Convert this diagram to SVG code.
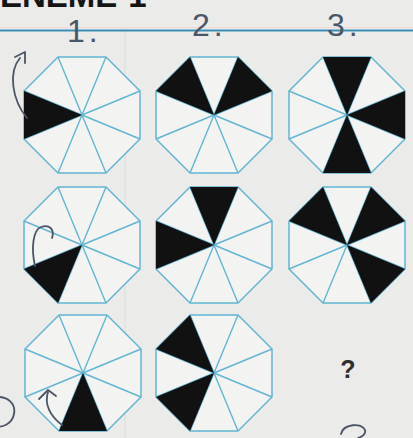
<svg xmlns="http://www.w3.org/2000/svg" xmlns:xlink="http://www.w3.org/1999/xlink" width="413" height="438" viewBox="0 0 413 438">
<style>
.oct{fill:#f3f3f2;stroke:#62b6d4;stroke-width:1.5;stroke-linejoin:round}
.spoke{stroke:#62b6d4;stroke-width:1.4}
.blk{fill:#111}
.hand{fill:none;stroke:#4a5466;stroke-width:1.8;stroke-linecap:round;stroke-linejoin:round}
.num{font-family:"Liberation Sans",Arial,sans-serif;font-size:32px;fill:#4a5668;letter-spacing:4px}
</style>
<defs>
<g id="octbase">
<polygon class="oct" points="-24,-58 24,-58 58,-24 58,24 24,58 -24,58 -58,24 -58,-24"/>
<g class="spoke">
<line x1="0" y1="0" x2="-24" y2="-58"/><line x1="0" y1="0" x2="24" y2="-58"/>
<line x1="0" y1="0" x2="58" y2="-24"/><line x1="0" y1="0" x2="58" y2="24"/>
<line x1="0" y1="0" x2="24" y2="58"/><line x1="0" y1="0" x2="-24" y2="58"/>
<line x1="0" y1="0" x2="-58" y2="24"/><line x1="0" y1="0" x2="-58" y2="-24"/>
</g>
</g>
<polygon id="wT" class="blk" points="0,0 -24,-58 24,-58"/>
<polygon id="wTR" class="blk" points="0,0 24,-58 58,-24"/>
<polygon id="wR" class="blk" points="0,0 58,-24 58,24"/>
<polygon id="wBR" class="blk" points="0,0 58,24 24,58"/>
<polygon id="wB" class="blk" points="0,0 24,58 -24,58"/>
<polygon id="wBL" class="blk" points="0,0 -24,58 -58,24"/>
<polygon id="wL" class="blk" points="0,0 -58,24 -58,-24"/>
<polygon id="wTL" class="blk" points="0,0 -58,-24 -24,-58"/>
</defs>
<rect x="0" y="0" width="413" height="438" fill="#ebebea"/>
<line x1="125" y1="30" x2="125" y2="438" stroke="#dcdcdc" stroke-width="1"/>
<line x1="0" y1="27.5" x2="413" y2="27.5" stroke="#f0d6d6" stroke-width="1"/>
<line x1="0" y1="30.5" x2="413" y2="30.5" stroke="#3a8db4" stroke-width="2"/>
<text x="0" y="7" font-family="Liberation Sans,Arial,sans-serif" font-weight="bold" font-size="33" fill="#151515">ENEME-1</text>
<g id="headers">
<text class="num" x="67" y="42" font-size="28">1.</text>
<text class="num" x="192" y="36">2.</text>
<text class="num" x="327" y="36">3.</text>
</g>
<g id="n1" transform="translate(82,115)"><use xlink:href="#octbase"/><use xlink:href="#wL"/></g>
<g id="n2" transform="translate(214,115)"><use xlink:href="#octbase"/><use xlink:href="#wTL"/><use xlink:href="#wTR"/></g>
<g id="n3" transform="translate(347,115)"><use xlink:href="#octbase"/><use xlink:href="#wT"/><use xlink:href="#wR"/><use xlink:href="#wB"/></g>
<g id="n4" transform="translate(82,245)"><use xlink:href="#octbase"/><use xlink:href="#wBL"/></g>
<g id="n5" transform="translate(214,245)"><use xlink:href="#octbase"/><use xlink:href="#wT"/><use xlink:href="#wL"/></g>
<g id="n6" transform="translate(347,245)"><use xlink:href="#octbase"/><use xlink:href="#wTL"/><use xlink:href="#wTR"/><use xlink:href="#wBR"/></g>
<g id="n7" transform="translate(83,373)"><use xlink:href="#octbase"/><use xlink:href="#wB"/></g>
<g id="n8" transform="translate(214,373)"><use xlink:href="#octbase"/><use xlink:href="#wTL"/><use xlink:href="#wBL"/></g>
<g id="n9"><text x="348" y="378" text-anchor="middle" font-family="Liberation Sans,Arial,sans-serif" font-weight="bold" font-size="25" fill="#2e2e2e">?</text></g>
<g id="connectors">
<path class="hand" d="M27,118 C12,100 8,72 20,58"/>
<path class="hand" d="M15,57 L25,52 L25,63"/>
<path class="hand" d="M35,266 C31,248 33,230 41,227 C49,224 55,229 52,238"/>
<path class="hand" d="M62,425 C50,416 44,404 48,392"/>
<path class="hand" d="M39,399 L48,390 L56,396"/>
<path class="hand" d="M-4,397 C8,396 16,404 14,414 C12,424 2,428 -4,426"/>
<path class="hand" d="M341,434 C343,424 362,422 365,430 C366,434 362,437 358,438"/>
</g>
</svg>
